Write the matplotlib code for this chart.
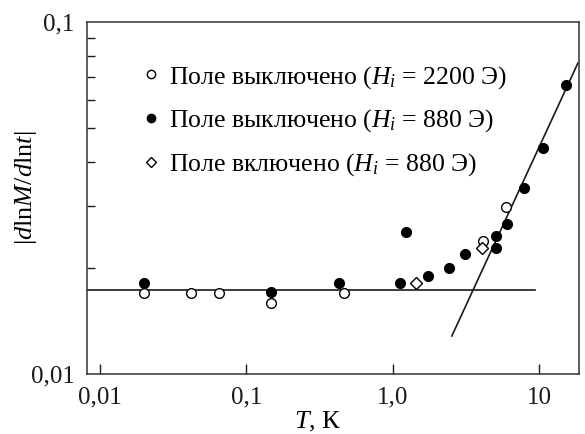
import matplotlib
matplotlib.use("Agg")
import matplotlib.pyplot as plt
from matplotlib.ticker import FixedLocator, NullFormatter, NullLocator
from matplotlib.lines import Line2D

plt.rcParams['font.family'] = ['Liberation Serif', 'DejaVu Serif']
plt.rcParams['mathtext.fontset'] = 'custom'
plt.rcParams['mathtext.rm'] = 'Liberation Serif'
plt.rcParams['mathtext.it'] = 'Liberation Serif:italic'
plt.rcParams['mathtext.bf'] = 'Liberation Serif:bold'

# Open circles: field off, Hi = 2200 Oe
T_open = [0.020, 0.042, 0.0654, 0.148, 0.469, 4.13, 5.94]
y_open = [0.0170, 0.0170, 0.0170, 0.0159, 0.0170, 0.0239, 0.0298]

# Filled circles: field off, Hi = 880 Oe
T_fill = [0.020, 0.148, 0.427, 1.12, 1.23, 1.74, 2.42, 3.11, 5.08, 5.08, 6.04, 7.89, 10.6, 15.3]
y_fill = [0.0181, 0.0171, 0.0181, 0.0181, 0.0253, 0.0190, 0.0200, 0.0219, 0.0228, 0.0247, 0.0267, 0.0338, 0.0438, 0.0662]

# Diamonds: field on, Hi = 880 Oe
T_diam = [1.44, 4.08]
y_diam = [0.0181, 0.0228]

# Guide lines
flat_T = [0.0081, 9.4]
flat_y = [0.01733, 0.01733]
slope_T = [2.54, 18.5]
slope_y = [0.01282, 0.0765]

labels = [r'Поле выключено ($H_i$ = 2200 Э)',
          r'Поле выключено ($H_i$ = 880 Э)',
          r'Поле включено ($H_i$ = 880 Э)']

xticks = [0.01, 0.1, 1.0, 10]
xticklabels = ['0,01', '0,1', '1,0', '10']
yticks = [0.01, 0.1]
yticklabels = ['0,01', '0,1']

fig = plt.figure(figsize=(5.85, 4.34), dpi=100)
ax = fig.add_axes([87/585, 60/434, 492/585, 352/434])

ax.set_xscale('log')
ax.set_yscale('log')
ax.set_xlim(0.00815, 18.8)
ax.set_ylim(0.01, 0.1)

lc = '#1a1a1a'
ax.plot(flat_T, flat_y, color=lc, lw=1.2, zorder=1)
ax.plot(slope_T, slope_y, color=lc, lw=1.2, zorder=1)

ms = 7
ax.plot(T_open, y_open, 'o', ms=ms, mfc='white', mec='black', mew=1.0, ls='none', zorder=3)
ax.plot(T_fill, y_fill, 'o', ms=ms, mfc='black', mec='black', mew=1.0, ls='none', zorder=3)
ax.plot(T_diam, y_diam, 'D', ms=6, mfc='white', mec='black', mew=1.0, ls='none', zorder=3)

handles = [
    Line2D([], [], marker='o', ls='none', ms=6, mfc='white', mec='black', mew=1.0),
    Line2D([], [], marker='o', ls='none', ms=6, mfc='black', mec='black', mew=1.0),
    Line2D([], [], marker='D', ls='none', ms=5, mfc='white', mec='black', mew=1.0),
]
ax.legend(handles, labels, loc='upper left', bbox_to_anchor=(0.09, 0.918), frameon=False,
          fontsize=18.5, handlelength=0.5, handletextpad=0.45, labelspacing=0.66,
          borderpad=0.0)

ax.xaxis.set_major_locator(FixedLocator(xticks))
ax.set_xticklabels(xticklabels)
ax.xaxis.set_minor_locator(NullLocator())
ax.yaxis.set_major_locator(FixedLocator(yticks))
ax.set_yticklabels(yticklabels)
ax.yaxis.set_minor_locator(FixedLocator([0.02, 0.03, 0.04, 0.05, 0.06, 0.07, 0.08, 0.09]))
ax.yaxis.set_minor_formatter(NullFormatter())

ax.tick_params(axis='x', which='major', direction='in', length=7, width=1.0, pad=9,
               labelsize=18, top=False, colors=lc)
ax.tick_params(axis='y', which='major', direction='in', length=0, width=1.0, pad=9,
               labelsize=18, right=False, colors=lc)
ax.tick_params(axis='y', which='minor', direction='in', length=6, width=1.0, right=False, colors=lc)

for s in ax.spines.values():
    s.set_linewidth(1.1)
    s.set_color('#333333')

ax.set_xlabel(r'$T$, К', fontsize=19, labelpad=1, x=0.47)
fig.text(39/585, 1 - 188/434, r'$|d\mathrm{ln}M/d\mathrm{ln}t|$', fontsize=19,
         rotation=90, ha='right', va='center')

fig.savefig('out.png', dpi=100)
